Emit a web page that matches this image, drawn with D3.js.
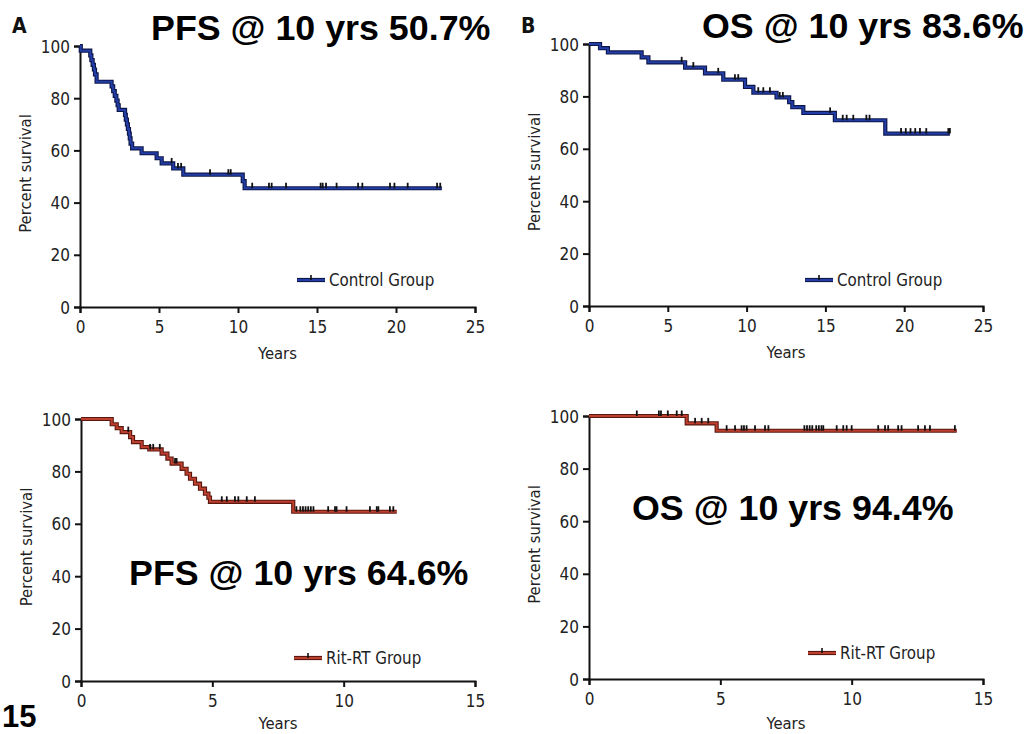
<!DOCTYPE html>
<html>
<head>
<meta charset="utf-8">
<script src="https://cdn.jsdelivr.net/npm/d3@7"></script>
<style>
  html, body { margin: 0; padding: 0; background: #fff; }
  svg { display: block; }
  .tick text { font-family: "DejaVu Sans Condensed", "DejaVu Sans", sans-serif; font-size: 17px; fill: #222; }
  .axis-title { font-family: "DejaVu Sans Condensed", "DejaVu Sans", sans-serif; font-size: 16.5px; fill: #222; }
  .legend-text { font-family: "DejaVu Sans Condensed", "DejaVu Sans", sans-serif; font-size: 16.8px; fill: #222; }
  .stat { font-family: "Liberation Sans", Arial, Helvetica, sans-serif; font-weight: bold; font-size: 35.8px; fill: #000; }
  .page-no { font-family: "Liberation Sans", Arial, Helvetica, sans-serif; font-weight: bold; font-size: 31px; fill: #000; }
  .panel-letter { font-family: "DejaVu Sans Condensed", "DejaVu Sans", sans-serif; font-weight: bold; font-size: 21px; fill: #111; }
</style>
</head>
<body>
<svg id="chart" width="1029" height="734"></svg>
<script>
// Axis ticks
const yTicks = [0, 20, 40, 60, 80, 100];
const xTicksLong = [0, 5, 10, 15, 20, 25];
const xTicksShort = [0, 5, 10, 15];

// Progression-free survival, control group (event times in years, survival %)
const pfsControlTime = [0, 0.05, 0.65, 0.72, 0.8, 0.88, 0.95, 1.05, 2.0, 2.1, 2.2, 2.3, 2.38, 2.45,
  2.85, 2.9, 2.97, 3.03, 3.1, 3.15, 3.2, 3.3, 3.9, 4.85, 5.17, 5.9, 6.54, 10.3, 10.42];
const pfsControlSurv = [100, 98.2, 96.4, 94.6, 92.8, 91.0, 89.1, 86.3, 84.5, 82.7, 80.9, 79.1, 77.3, 75.5,
  73.6, 71.8, 70.0, 68.2, 66.4, 64.6, 62.6, 60.8, 58.9, 57.0, 55.0, 53.1, 50.7, 48.2, 45.5];
const pfsControlEnd = 22.9;
const pfsControlCensor = [5.8, 6.2, 6.4, 8.23, 9.39, 9.54, 10.9, 11.96, 12.13, 13.04, 15.23, 15.36,
  15.57, 16.24, 17.6, 17.87, 19.62, 19.9, 20.74, 22.6, 22.8];

// Overall survival, control group
const osControlTime = [0, 0.7, 1.2, 3.34, 3.77, 6.1, 7.36, 8.52, 9.9, 10.43, 11.9, 12.7, 12.9, 13.6, 15.6, 18.8];
const osControlSurv = [100, 98.4, 96.8, 94.9, 93.0, 91.0, 88.8, 86.4, 83.6, 81.4, 79.6, 77.8, 75.9, 73.7, 70.9, 65.8];
const osControlEnd = 22.9;
const osControlCensor = [5.88, 6.62, 8.2, 9.26, 9.47, 10.74, 11.06, 11.48, 12.1, 12.3, 15.3, 16.1,
  16.35, 16.77, 17.6, 17.8, 19.8, 20.1, 20.4, 20.7, 21.0, 21.4, 22.8, 22.9];

// Progression-free survival, Rit-RT group
const pfsRitTime = [0, 1.17, 1.36, 1.55, 1.87, 1.98, 2.31, 2.6, 3.07, 3.29, 3.45, 3.83, 4.02, 4.15,
  4.34, 4.53, 4.72, 4.85, 4.91, 8.08];
const pfsRitSurv = [100, 98.0, 96.5, 95.0, 93.1, 91.2, 89.3, 88.4, 86.8, 84.9, 83.0, 81.0, 79.1, 77.2,
  75.3, 73.4, 71.5, 70.0, 68.4, 64.6];
const pfsRitEnd = 12.02;
const pfsRitCensor = [1.8, 2.63, 2.75, 3.0, 3.58, 3.64, 5.36, 5.55, 5.86, 5.99, 6.31, 6.62, 8.2, 8.35,
  8.45, 8.55, 8.65, 8.75, 8.85, 9.41, 9.67, 9.73, 10.11, 11.0, 11.26, 11.32, 11.76, 11.89];

// Overall survival, Rit-RT group
const osRitTime = [0, 3.72, 4.86];
const osRitSurv = [100, 97.2, 94.4];
const osRitEnd = 14.0;
const osRitCensor = [1.82, 2.66, 2.74, 3.0, 3.34, 3.53, 4.04, 4.29, 4.54, 5.24, 5.56, 5.81, 5.9, 6.0,
  6.32, 6.7, 6.83, 8.2, 8.3, 8.4, 8.5, 8.65, 8.75, 8.85, 8.92, 9.43, 9.68, 9.81, 10.0, 11.01, 11.27,
  11.39, 11.77, 11.9, 12.53, 12.79, 12.98, 13.93];

const blue = { under: "#0e1648", over: "#223ea6" };
const red = { under: "#5a1810", over: "#bd3f2e" };

const panels = [
  { letter: "A", stat: "PFS @ 10 yrs 50.7%", statX: 151, statY: 40,
    time: pfsControlTime, surv: pfsControlSurv, end: pfsControlEnd, censor: pfsControlCensor,
    xMax: 25, xTicks: xTicksLong, x0: 80, x1: 475, y0: 307, y1: 46, titleGap: 52,
    color: blue, legend: "Control Group", legX: 297, legY: 280 },
  { letter: "B", stat: "OS @ 10 yrs 83.6%", statX: 702, statY: 38,
    time: osControlTime, surv: osControlSurv, end: osControlEnd, censor: osControlCensor,
    xMax: 25, xTicks: xTicksLong, x0: 589, x1: 983, y0: 306, y1: 44, titleGap: 52,
    color: blue, legend: "Control Group", legX: 805, legY: 280 },
  { letter: null, stat: "PFS @ 10 yrs 64.6%", statX: 129, statY: 585,
    time: pfsRitTime, surv: pfsRitSurv, end: pfsRitEnd, censor: pfsRitCensor,
    xMax: 15, xTicks: xTicksShort, x0: 81, x1: 475, y0: 681, y1: 419, titleGap: 48,
    color: red, legend: "Rit-RT Group", legX: 294, legY: 658 },
  { letter: null, stat: "OS @ 10 yrs 94.4%", statX: 632, statY: 520,
    time: osRitTime, surv: osRitSurv, end: osRitEnd, censor: osRitCensor,
    xMax: 15, xTicks: xTicksShort, x0: 589, x1: 983, y0: 679, y1: 416, titleGap: 50,
    color: red, legend: "Rit-RT Group", legX: 808, legY: 653 }
];

const svg = d3.select("#chart");

// Kaplan-Meier value at time t (step function, right-continuous)
function survAt(p, t) {
  let v = p.surv[0];
  for (let i = 0; i < p.time.length; i++) {
    if (p.time[i] <= t) v = p.surv[i];
  }
  return v;
}

panels.forEach(p => {
  const g = svg.append("g");
  const x = d3.scaleLinear().domain([0, p.xMax]).range([p.x0, p.x1]);
  const y = d3.scaleLinear().domain([0, 100]).range([p.y0, p.y1]);

  // axes
  const xAxis = g.append("g")
    .attr("transform", `translate(0,${p.y0})`)
    .call(d3.axisBottom(x).tickValues(p.xTicks).tickSize(6).tickPadding(5).tickFormat(d3.format("d")));
  const yAxis = g.append("g")
    .attr("transform", `translate(${p.x0},0)`)
    .call(d3.axisLeft(y).tickValues(yTicks).tickSize(6).tickPadding(4).tickFormat(d3.format("d")));
  [xAxis, yAxis].forEach(a => {
    a.select(".domain").attr("stroke", "#111").attr("stroke-width", 2);
    a.selectAll(".tick line").attr("stroke", "#111").attr("stroke-width", 2);
  });
  xAxis.selectAll(".tick text").attr("dy", "0.9em");
  yAxis.selectAll(".tick text").attr("dy", "0.36em");

  g.append("text").attr("class", "axis-title")
    .attr("x", (p.x0 + p.x1) / 2).attr("y", p.y0 + p.titleGap)
    .attr("text-anchor", "middle").text("Years");
  g.append("text").attr("class", "axis-title")
    .attr("transform", `translate(${p.x0 - 49},${(p.y0 + p.y1) / 2 - 3}) rotate(-90)`)
    .attr("text-anchor", "middle").text("Percent survival");

  // survival curve
  const pts = p.time.map((t, i) => [t, p.surv[i]]);
  pts.push([p.end, p.surv[p.surv.length - 1]]);
  const line = d3.line().x(d => x(d[0])).y(d => y(d[1])).curve(d3.curveStepAfter);
  g.append("path").attr("d", line(pts)).attr("fill", "none")
    .attr("stroke", p.color.under).attr("stroke-width", 4.2).attr("stroke-linejoin", "miter");
  g.append("path").attr("d", line(pts)).attr("fill", "none")
    .attr("stroke", p.color.over).attr("stroke-width", 2);

  // censor marks
  g.selectAll(".censor").data(p.censor).join("line")
    .attr("class", "censor")
    .attr("x1", d => x(d)).attr("x2", d => x(d))
    .attr("y1", d => y(survAt(p, d)) - 5.5).attr("y2", d => y(survAt(p, d)))
    .attr("stroke", "#111").attr("stroke-width", 1.8);

  // legend
  g.append("line").attr("x1", p.legX).attr("x2", p.legX + 28)
    .attr("y1", p.legY).attr("y2", p.legY)
    .attr("stroke", p.color.under).attr("stroke-width", 4.2);
  g.append("line").attr("x1", p.legX).attr("x2", p.legX + 28)
    .attr("y1", p.legY).attr("y2", p.legY)
    .attr("stroke", p.color.over).attr("stroke-width", 2);
  g.append("line").attr("x1", p.legX + 14).attr("x2", p.legX + 14)
    .attr("y1", p.legY - 5).attr("y2", p.legY)
    .attr("stroke", "#111").attr("stroke-width", 1.6);
  g.append("text").attr("class", "legend-text")
    .attr("x", p.legX + 32).attr("y", p.legY + 6).text(p.legend);

  // statistic caption
  g.append("text").attr("class", "stat").attr("x", p.statX).attr("y", p.statY).text(p.stat);

  if (p.letter) {
    g.append("text").attr("class", "panel-letter")
      .attr("x", p.x0 - 68).attr("y", 33).text(p.letter);
  }
});

// page number at the lower left
svg.append("text").attr("class", "page-no").attr("x", 2).attr("y", 727).text("15");
</script>
</body>
</html>
